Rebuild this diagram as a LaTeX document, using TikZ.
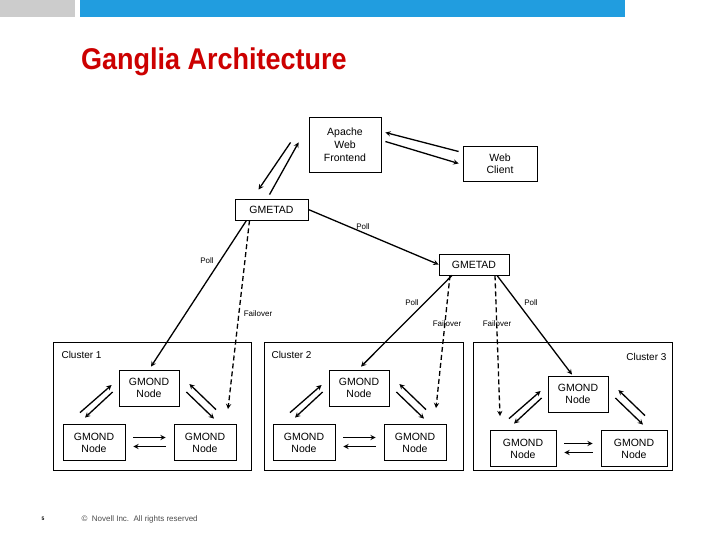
\documentclass[tikz,border=0pt]{standalone}
\usepackage{fontspec}
\setmainfont{Liberation Sans}
\usetikzlibrary{calc}
\begin{document}
\begin{tikzpicture}[x=1pt,y=-1pt,
  box/.style={draw,line width=0.8pt,fill=white,align=center,font=\fontsize{10.5}{12}\selectfont,inner sep=0pt},
  gm/.style={box,minimum width=60pt,minimum height=36pt},
  ar/.style={->,>=stealth,line width=1.3pt},
  dsh/.style={ar,dash pattern=on 5pt off 3pt},
  lbl/.style={font=\fontsize{8}{9}\selectfont},
  cl/.style={draw,line width=0.8pt}]
\useasboundingbox (0,0) rectangle (728,546);
\fill[white] (0,0) rectangle (728,546);
\fill[black!20] (0,0) rectangle (75,17);
\fill[cyan!80!blue!90!white] (80,0) rectangle (625,17);
\node[anchor=west,text=red!80!black,font=\fontsize{30}{34}\selectfont\bfseries,xscale=0.9] (title) at (78,62) {Ganglia Architecture};

\node[box,minimum width=72pt,minimum height=55pt,font=\fontsize{10.5}{13}\selectfont] (apache) at (345,144.5) {Apache\\Web\\Frontend};
\node[box,minimum width=74pt,minimum height=35pt] (web) at (500,163.5) {Web\\Client};
\node[box,minimum width=73pt,minimum height=21pt] (g1) at (271.5,209.5) {GMETAD};
\node[box,minimum width=70pt,minimum height=21pt] (g2) at (474,264.5) {GMETAD};

\draw[ar] ($(web.west)+(-4,-12)$) -- ($(apache.east)+(4,-12)$);
\draw[ar] ($(apache.east)+(4,-3)$) -- ($(web.west)+(-4,0)$);
\draw[ar] ($(g1.north)+(-2,-4)$) -- ($(apache.south west)+(-10,-30)$);
\draw[ar] ($(apache.south west)+(-18,-30)$) -- ($(g1.north)+(-13,-9)$);

\draw[ar] (g1.east) -- (g2.west);
\node[lbl] (p0) at (363,227) {Poll};

\newcommand\mkcluster[4]{%
 \begin{scope}[shift={(#2,#3)}]
  \node[gm] (#1t) at (149,388) {GMOND\\Node};
  \node[gm,minimum width=#4] (#1l) at (94,442.5) {GMOND\\Node};
  \node[gm,minimum width=#4] (#1r) at (205,442.5) {GMOND\\Node};
  \draw[ar] ($(#1l.north)+(-14,-11.5)$) -- ($(#1t.west)+(-7,-3)$);
  \draw[ar] ($(#1t.west)+(-6,4)$) -- ($(#1l.north)+(-9,-6.5)$);
  \draw[ar] ($(#1r.north)+(11,-14.5)$) -- ($(#1t.east)+(10,-4)$);
  \draw[ar] ($(#1t.east)+(7,4)$) -- ($(#1r.north)+(9,-5.5)$);
  \draw[ar] ($(#1l.east)+(8,-5)$) -- ($(#1r.west)+(-8,-5)$);
  \draw[ar] ($(#1r.west)+(-8,4)$) -- ($(#1l.east)+(8,4)$);
 \end{scope}}
\draw[cl] (53,342) rectangle (251,470);
\draw[cl] (264,342) rectangle (463,470);
\draw[cl] (473,342) rectangle (672,470);
\mkcluster{a}{0}{0}{62pt}
\mkcluster{b}{210}{0}{62pt}
\mkcluster{c}{429}{6}{66pt}
\node[anchor=west,font=\fontsize{10}{12}\selectfont] (l1) at (58,355) {Cluster 1};
\node[anchor=west,font=\fontsize{10}{12}\selectfont] (l2) at (268,355) {Cluster 2};
\node[anchor=east,font=\fontsize{10}{12}\selectfont] (l3) at (670,357) {Cluster 3};

\draw[ar] ($(g1.south)+(-25,0)$) -- ($(at.north)+(2,-3)$);
\node[lbl] (p1) at (207,261) {Poll};
\draw[dsh] ($(g1.south)+(-22,0)$) -- ($(ar.north)+(23,-15)$);
\node[lbl] (f1) at (258,314) {Failover};
\draw[ar] ($(g2.south)+(-22,0)$) -- ($(bt.north)+(2,-3)$);
\node[lbl] (p2) at (412,303) {Poll};
\draw[dsh] ($(g2.south)+(-24,0)$) -- ($(br.north)+(21,-16)$);
\node[lbl] (f2) at (447,324) {Failover};
\draw[dsh] ($(g2.south)+(21,0)$) -- ($(cl.north)+(-23,-14)$);
\node[lbl] (f3) at (497,324) {Failover};
\draw[ar] ($(g2.south)+(23,0)$) -- ($(ct.north)+(-6,-1)$);
\node[lbl] (p3) at (531,303) {Poll};

\node[anchor=west,font=\fontsize{5}{6}\selectfont\bfseries] (pg) at (38,519) {5};
\node[anchor=west,text=black!70,font=\fontsize{8}{9}\selectfont] (foot) at (78,519) {\textcopyright\ \ Novell Inc.\ \ All rights reserved};
\end{tikzpicture}
\end{document}
